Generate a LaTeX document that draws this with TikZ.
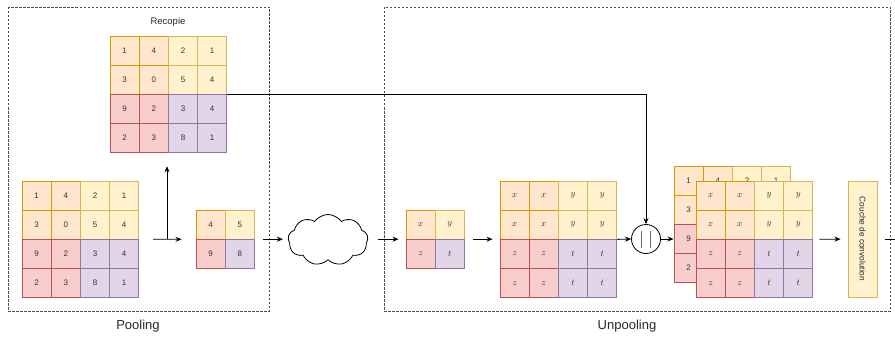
\documentclass[tikz,border=0pt]{standalone}
\usepackage{fontspec}
\setmainfont{Liberation Sans}
\usetikzlibrary{shapes.symbols,arrows.meta,fit}
\definecolor{orF}{HTML}{FFE6CC}\definecolor{orD}{HTML}{D79B00}
\definecolor{yeF}{HTML}{FFF2CC}\definecolor{yeD}{HTML}{D6B656}
\definecolor{reF}{HTML}{F8CECC}\definecolor{reD}{HTML}{B85450}
\definecolor{puF}{HTML}{E1D5E7}\definecolor{puD}{HTML}{9673A6}
\tikzset{
  cellbase/.style={minimum width=29.2pt, minimum height=29.2pt, inner sep=0pt,
    line width=0.9pt, font=\fontsize{8}{9}\selectfont, text=black!80},
  q0/.style={cellbase, fill=orF, draw=orD},
  q1/.style={cellbase, fill=yeF, draw=yeD},
  q2/.style={cellbase, fill=reF, draw=reD},
  q3/.style={cellbase, fill=puF, draw=puD},
  arr/.style={-{Stealth[length=6pt,width=5pt]}, line width=0.8pt},
  plain/.style={line width=0.8pt},
  group/.style={draw=black!70, dash pattern=on 2.5pt off 1.5pt, line width=0.7pt},
  lbl/.style={font=\fontsize{13}{15}\selectfont, text=black!85},
}
\newcommand\mv[1]{{\fontsize{9.5}{10}\selectfont$#1$}}
\newcommand\cellgrid[5]{%
  \foreach \v [count=\k from 0] in {#5} {%
    \pgfmathtruncatemacro\rr{int(\k/#2)}%
    \pgfmathtruncatemacro\cc{mod(\k,#2)}%
    \pgfmathtruncatemacro\qq{(\rr>=#2/2)*2+(\cc>=#2/2)}%
    \node[q\qq] (#1-\rr-\cc) at ({#3+29.2*\cc+14.6},{#4+29.2*\rr+14.6}) {\v};
  }%
  \pgfmathtruncatemacro\lastidx{#2-1}%
  \node[fit=(#1-0-0)(#1-\lastidx-\lastidx), inner sep=0pt, outer sep=0pt] (#1) {};
}
\begin{document}
\begin{tikzpicture}[x=1pt, y=-1pt]
\useasboundingbox (0,0) rectangle (895,337);
% group frames
\draw[group] (8,7) rectangle (269,311);
\draw[group] (384,7) rectangle (890,311);
\node[lbl] (lpool) at (138,326) {Pooling};
\node[lbl] (lunpool) at (627,326) {Unpooling};
\node[font=\fontsize{9.5}{11}\selectfont, text=black!85] (lrec) at (168,22) {Recopie};
% grids
\cellgrid{R}{4}{110}{36}{1,4,2,1,3,0,5,4,9,2,3,4,2,3,8,1}
\cellgrid{G}{4}{22}{181}{1,4,2,1,3,0,5,4,9,2,3,4,2,3,8,1}
\cellgrid{P}{2}{196}{210}{4,5,9,8}
\cellgrid{U}{2}{406}{210}{\mv{x},\mv{y},\mv{z},\mv{t}}
\cellgrid{B}{4}{500}{181}{\mv{x},\mv{x},\mv{y},\mv{y},\mv{x},\mv{x},\mv{y},\mv{y},\mv{z},\mv{z},\mv{t},\mv{t},\mv{z},\mv{z},\mv{t},\mv{t}}
\cellgrid{S}{4}{674}{166}{1,4,2,1,3,0,5,4,9,2,3,4,2,3,8,1}
\cellgrid{F}{4}{696}{181}{\mv{x},\mv{x},\mv{y},\mv{y},\mv{x},\mv{x},\mv{y},\mv{y},\mv{z},\mv{z},\mv{t},\mv{t},\mv{z},\mv{z},\mv{t},\mv{t}}
% cloud
\node[cloud, draw, cloud puffs=9, cloud puff arc=110, aspect=1.6,
      minimum width=80pt, minimum height=51pt, line width=0.8pt, inner sep=0pt] (cl) at (328,240) {};
% concat
\node[circle, draw, minimum size=29pt, line width=0.8pt, inner sep=0pt] (cat) at (646,239) {};
\draw[black!60, line width=1pt] (cat.center) ++(-4.2,-8.5) -- ++(0,17);
\draw[black!60, line width=1pt] (cat.center) ++(4.2,-8.5) -- ++(0,17);
% convolution layer
\node[rotate=-90, draw=yeD, fill=yeF, line width=0.9pt, minimum width=116pt, minimum height=29pt,
      inner sep=0pt, font=\fontsize{8.3}{9}\selectfont, text=black!85] (conv) at (862.5,239) {Couche de convolution};
\coordinate (out) at (897,239);
% connectors
\draw[arr, shorten <=14pt, shorten >=14pt] (G.east) -- (P.west);
\coordinate (jn) at (167,239);
\draw[arr, shorten >=13pt] (jn) -- (jn |- R.south);
\draw[arr, shorten <=8pt, shorten >=5pt] (P.east) -- (P.east -| cl.west);
\draw[arr, shorten <=10pt, shorten >=7pt] (U.west -| cl.east) -- (U.west);
\draw[arr, shorten <=8pt, shorten >=7pt] (U.east) -- (U.east -| B.west);
\draw[arr] (B.east) -- (cat.west);
\draw[arr] (R.east) -| (cat.north);
\draw[arr] (cat.east) -- (cat.east -| S.west);
\draw[arr, shorten <=6pt, shorten >=7pt] (F.east) -- (conv.south);
\draw[plain, shorten <=8pt] (conv.north) -- (out);
\end{tikzpicture}
\end{document}
